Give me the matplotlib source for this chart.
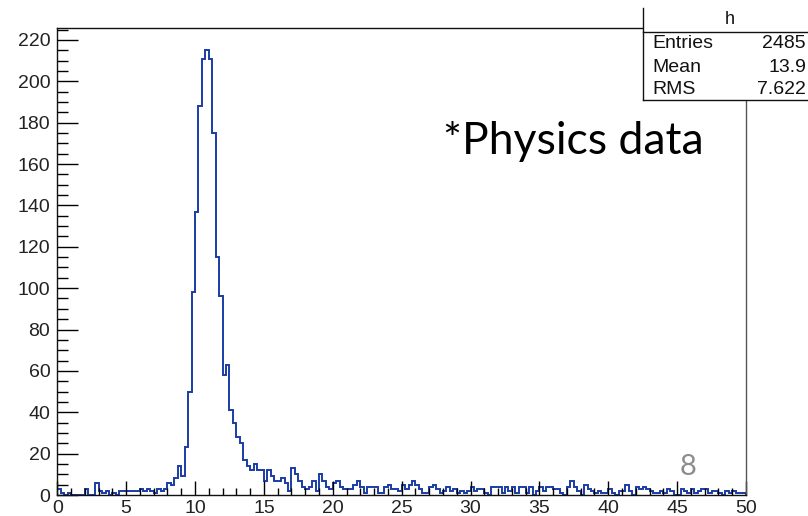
import numpy as np
import matplotlib
matplotlib.use("Agg")
import matplotlib.pyplot as plt
from matplotlib.lines import Line2D
from matplotlib.patches import Rectangle
from matplotlib.ticker import MultipleLocator

# histogram "h": 200 bins of width 0.25 between 0 and 50
x_min, x_max, n_bins = 0.0, 50.0, 200

counts_low = [3, 1, 0, 1, 0, 0, 0, 0, 3, 0, 0, 6, 2, 1, 2, 0,
              1, 0, 2, 2, 2, 2, 2, 2, 3, 2, 3, 2, 1, 3, 2, 3]
counts_peak = [6, 5, 8, 14, 9, 23, 50, 98, 137, 188, 211, 215, 211, 175,
               115, 96, 58, 63, 41, 35, 28, 25, 17, 14, 12, 15, 12, 12]
counts_tail1 = [7, 12, 9, 7, 7, 8, 6, 2, 13, 10, 7, 4, 3, 4, 7, 2,
                10, 7, 4, 3, 6, 7, 4, 3, 3, 3, 5, 7]
counts_tail2 = [4, 1, 4, 4, 4, 1, 1, 4, 5, 3, 3, 2, 5, 3, 5, 7,
                5, 3, 1, 1, 4, 5, 3, 1, 2, 4, 2, 3]
counts_tail3 = [1, 2, 1, 2, 4, 2, 3, 3, 1, 0, 4, 4, 4, 1, 4, 2,
                4, 1, 4, 4, 1, 4, 0, 2, 4, 2, 4]
counts_tail4 = [4, 3, 3, 1, 0, 4, 7, 4, 2, 0, 5, 3, 2, 1, 2, 1,
                1, 3, 1, 0, 2, 2, 5, 2, 0, 4, 3, 4, 3]
counts_tail5 = [2, 1, 1, 2, 1, 3, 2, 0, 0, 3, 2, 1, 3, 1, 2, 3,
                3, 1, 2, 2, 1, 0, 2, 1, 2, 1, 1, 1]

stat_names = ["Entries", "Mean", "RMS"]
stat_values = ["2485", "13.9", "7.622"]

counts = np.array(counts_low + counts_peak + counts_tail1 + counts_tail2
                  + counts_tail3 + counts_tail4 + counts_tail5, dtype=float)
assert len(counts) == n_bins
edges = np.linspace(x_min, x_max, n_bins + 1)

W, H = 808, 516
fig = plt.figure(figsize=(W / 100, H / 100), dpi=100)
fig.patch.set_facecolor("white")


def fx(px):
    return px / W


def fy(py):
    return 1 - py / H


TICK_FONT = ["Liberation Sans", "DejaVu Sans"]
SLIDE_FONT = ["Lato", "DejaVu Sans"]

ax = fig.add_axes([fx(57.3), fy(495), fx(746) - fx(57.3), fy(28) - fy(495)])
ax.stairs(counts, edges, color="#1a3ca6", lw=1.4)
ax.set_xlim(x_min, x_max)
ax.set_ylim(0, 1.05 * counts.max())

ax.xaxis.set_major_locator(MultipleLocator(5))
ax.xaxis.set_minor_locator(MultipleLocator(1))
ax.yaxis.set_major_locator(MultipleLocator(20))
ax.yaxis.set_minor_locator(MultipleLocator(5))
ax.tick_params(axis="x", which="major", direction="in", length=10, width=1,
               pad=3.5, labelsize=14)
ax.tick_params(axis="x", which="minor", direction="in", length=5, width=1)
ax.tick_params(axis="y", which="major", direction="in", length=15, width=1,
               pad=5, labelsize=14)
ax.tick_params(axis="y", which="minor", direction="in", length=8, width=1)
for lab in ax.get_xticklabels() + ax.get_yticklabels():
    lab.set_family(TICK_FONT)
    lab.set_color("#222222")
for side in ["left", "bottom", "top"]:
    ax.spines[side].set_linewidth(1.0)
    ax.spines[side].set_color("#111111")
ax.spines["right"].set_linewidth(1.0)
ax.spines["right"].set_color("#555555")

# statistics box in the top right corner, drawn over the frame
box_l, box_r, box_t, box_hdr, box_b = 643, 812, 8, 32, 100
fig.add_artist(Rectangle((fx(box_l), fy(box_b)), fx(box_r) - fx(box_l),
                         fy(0) - fy(box_b), transform=fig.transFigure,
                         facecolor="white", edgecolor="none", zorder=5))
for (x0, y0, x1, y1) in [(box_l, box_t, box_l, box_b),
                         (box_l, box_hdr, box_r, box_hdr),
                         (box_l, box_b, box_r, box_b)]:
    fig.add_artist(Line2D([fx(x0), fx(x1)], [fy(y0), fy(y1)],
                          color="#111111", lw=1.0, zorder=6))
fig.text(fx(730), fy(20), "h", ha="center", va="center", fontsize=13,
         family=TICK_FONT, color="#111111", zorder=7)
for i, (name, val) in enumerate(zip(stat_names, stat_values)):
    y = fy(44 + i * 23)
    fig.text(fx(652), y, name, ha="left", va="center", fontsize=14,
             family=TICK_FONT, color="#111111", zorder=7)
    fig.text(fx(806), y, val, ha="right", va="center", fontsize=14,
             family=TICK_FONT, color="#111111", zorder=7)

fig.text(fx(443), fy(141), "*Physics data", ha="left", va="center",
         fontsize=32, family=SLIDE_FONT, color="black")
fig.text(fx(688), fy(467), "8", ha="center", va="center", fontsize=21,
         family=SLIDE_FONT, color="#8c8c8c")

fig.savefig("out.png", dpi=100, facecolor="white")
